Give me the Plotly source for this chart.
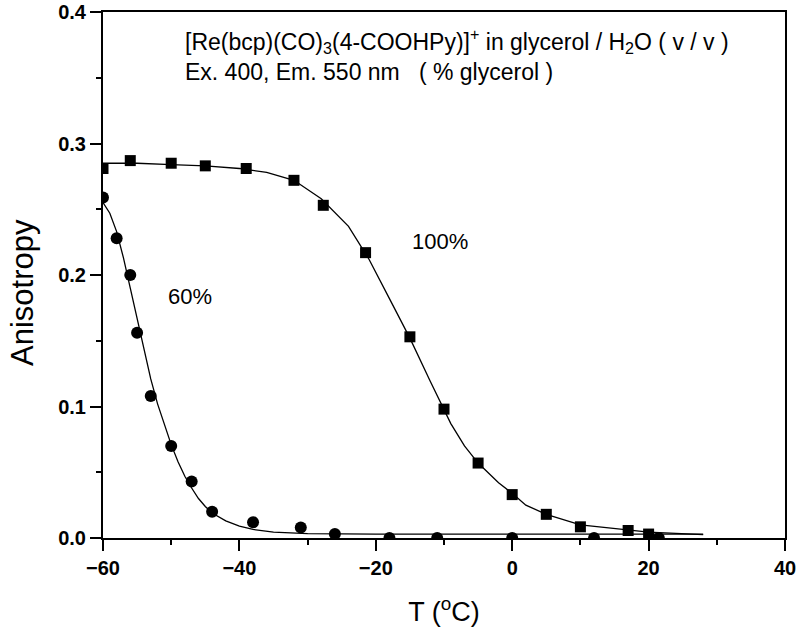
import plotly.graph_objects as go

# 100% glycerol data (squares)
t100 = [-60, -56, -50, -45, -39, -32, -27.7, -21.5, -15, -10, -5, 0, 5, 10, 17, 20]
r100 = [0.281, 0.287, 0.285, 0.283, 0.281, 0.272, 0.253, 0.217, 0.153, 0.098, 0.057, 0.033, 0.018, 0.0085, 0.0057, 0.003]

# 60% glycerol data (circles)
t60 = [-60, -58, -56, -55, -53, -50, -47, -44, -38, -31, -26, -18, -11, 0, 12, 21.5]
r60 = [0.259, 0.228, 0.200, 0.156, 0.108, 0.070, 0.043, 0.020, 0.012, 0.008, 0.003, 0.0, 0.0, 0.0, 0.0, 0.0]

# fitted curves
fit100_t = [-60, -55, -50, -45, -40, -36, -32, -28, -24, -21, -18, -15, -12, -9, -7, -5, -2, 0, 2, 5, 10, 15, 20, 28]
fit100_r = [0.285, 0.285, 0.284, 0.283, 0.281, 0.278, 0.272, 0.258, 0.237, 0.212, 0.182, 0.152, 0.119, 0.087, 0.070, 0.057, 0.042, 0.034, 0.025, 0.018, 0.010, 0.007, 0.0045, 0.0025]

fit60_t = [-60, -59, -58, -57, -56, -55, -54, -53, -52, -51, -50, -49, -48, -47, -46, -45, -44, -42, -40, -38, -35, -30, -20, 0, 28]
fit60_r = [0.255, 0.247, 0.233, 0.213, 0.190, 0.167, 0.143, 0.121, 0.102, 0.086, 0.071, 0.058, 0.047, 0.038, 0.030, 0.024, 0.019, 0.013, 0.009, 0.0065, 0.0045, 0.0033, 0.003, 0.003, 0.003]

x_ticks = [-60, -40, -20, 0, 20, 40]
y_ticks = [0, 0.1, 0.2, 0.3, 0.4]

FONT = "Liberation Sans, Arial, sans-serif"

fig = go.Figure()
fig.add_trace(go.Scatter(x=fit100_t, y=fit100_r, mode="lines",
                         line=dict(color="black", width=1.3), showlegend=False))
fig.add_trace(go.Scatter(x=fit60_t, y=fit60_r, mode="lines",
                         line=dict(color="black", width=1.3), showlegend=False))
fig.add_trace(go.Scatter(x=t100, y=r100, mode="markers",
                         marker=dict(symbol="square", size=11, color="black"), showlegend=False))
fig.add_trace(go.Scatter(x=t60, y=r60, mode="markers",
                         marker=dict(symbol="circle", size=12, color="black"), showlegend=False))

axis_common = dict(showline=True, linecolor="black", linewidth=2, mirror=True,
                   ticks="outside", ticklen=11, tickwidth=2, tickcolor="black",
                   showgrid=False, zeroline=False, automargin=False,
                   ticklabeloverflow="allow",
                   tickfont=dict(family=FONT, size=20, color="black", weight="bold"))

fig.update_xaxes(range=[-60, 40], tickvals=x_ticks,
                 minor=dict(dtick=10, tick0=-60, ticks="outside", ticklen=5, tickwidth=1.5, tickcolor="black"),
                 title=dict(text="T (<sup>o</sup>C)", font=dict(family=FONT, size=27, color="black"), standoff=24),
                 **axis_common)
fig.update_yaxes(range=[0, 0.4], tickvals=y_ticks, tickformat=".1f",
                 minor=dict(dtick=0.05, tick0=0, ticks="outside", ticklen=5, tickwidth=1.5, tickcolor="black"),
                 **axis_common)

# y-axis title (placed as annotation to match its off-centre position)
fig.add_annotation(x=-0.119, y=0.187, xref="paper", yref="y", xanchor="center", yanchor="middle",
                   text="Anisotropy", textangle=-90, showarrow=False,
                   font=dict(family=FONT, size=31, color="black"))

fig.add_annotation(x=-48.3, y=0.378, xref="x", yref="y", xanchor="left", yanchor="middle",
                   text="[Re(bcp)(CO)<sub>3</sub>(4-COOHPy)]<sup>+</sup> in glycerol / H<sub>2</sub>O ( v / v )",
                   showarrow=False, font=dict(family=FONT, size=23, color="black"))
fig.add_annotation(x=-48.3, y=0.354, xref="x", yref="y", xanchor="left", yanchor="middle",
                   text="Ex. 400, Em. 550 nm &nbsp;&nbsp;( % glycerol )",
                   showarrow=False, font=dict(family=FONT, size=23, color="black"))
fig.add_annotation(x=-10.6, y=0.2255, xref="x", yref="y", xanchor="center", yanchor="middle",
                   text="100%", showarrow=False, font=dict(family=FONT, size=22, color="black"))
fig.add_annotation(x=-47.2, y=0.184, xref="x", yref="y", xanchor="center", yanchor="middle",
                   text="60%", showarrow=False, font=dict(family=FONT, size=22, color="black"))

fig.update_layout(width=800, height=634, plot_bgcolor="white", paper_bgcolor="white",
                  margin=dict(l=103, r=15, t=12, b=96, autoexpand=False), showlegend=False)

# remove the default page-body margin so the figure sits at the window's top-left corner
fig.write_html("out.html", config={"displayModeBar": False},
               post_script="document.body.style.margin='0';")
